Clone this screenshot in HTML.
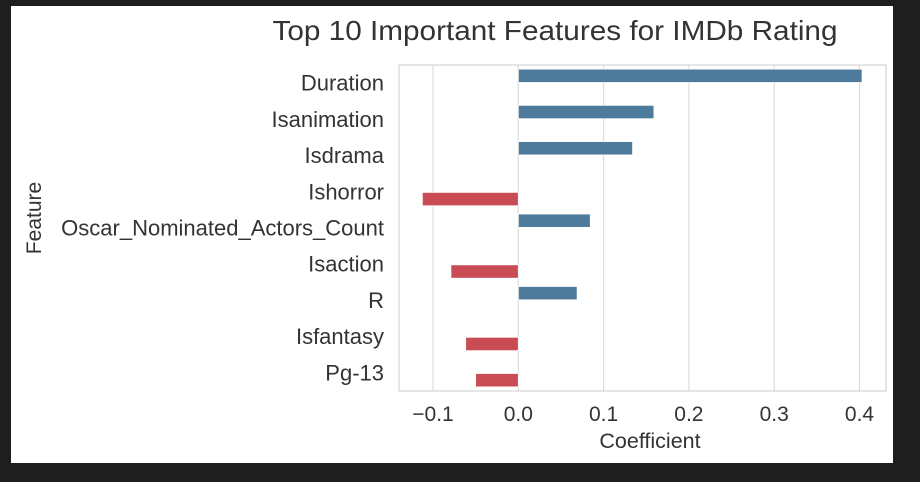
<!DOCTYPE html>
<html><head><meta charset="utf-8"><style>
html,body{margin:0;padding:0;background:#1e1e1e;width:920px;height:482px;overflow:hidden}
svg{display:block}
text{font-family:"Liberation Sans",Arial,sans-serif;fill:#333}
</style></head><body>
<svg width="920" height="482">
<rect x="11" y="6" width="882" height="457" fill="#fff"/>
<text x="555" y="40" font-size="28" text-anchor="middle" textLength="565" lengthAdjust="spacingAndGlyphs">Top 10 Important Features for IMDb Rating</text>
<g id="grid"></g>
<g id="bars"></g>
<rect x="399" y="65" width="487" height="326" fill="none" stroke="#d6d6d6" stroke-width="1.2"/>
<g id="labels"></g>
<text x="650" y="448" font-size="21.5" text-anchor="middle">Coefficient</text>
<text transform="translate(41,218) rotate(-90)" font-size="21" text-anchor="middle">Feature</text>
</svg>
<script>
const categories=["Duration","Isanimation","Isdrama","Ishorror","Oscar_Nominated_Actors_Count","Isaction","R","Isfantasy","Pg-13"];
const values=[0.403,0.159,0.134,-0.1125,0.0844,-0.079,0.069,-0.0617,-0.05];
const xTicks=[-0.1,0,0.1,0.2,0.3,0.4];
const xTickLabels=["\u22120.1","0.0","0.1","0.2","0.3","0.4"];
const NS="http://www.w3.org/2000/svg";
const L=399,R=886,T=65,B=391;
const x=v=>518.3+v*853;
const band=(B-T)/categories.length;
const yc=i=>T+(i+0.5)*band;
function mk(tag,attrs,parent){const e=document.createElementNS(NS,tag);for(const k in attrs)e.setAttribute(k,attrs[k]);parent.appendChild(e);return e;}
const grid=document.getElementById('grid'),bars=document.getElementById('bars'),labels=document.getElementById('labels');
xTicks.forEach((t,i)=>{
  const l=mk('line',{x1:x(t),x2:x(t),y1:T,y2:B,stroke:'#dcdcdc','stroke-width':1.2},grid);
  
  
  const tx=mk('text',{x:x(t),y:421,'font-size':21,'text-anchor':'middle'},labels);
  tx.textContent=xTickLabels[i];
  
  
});
categories.forEach((c,i)=>{
  const v=values[i];
  const pos=v>=0;
  const cy=yc(i)+(pos?-7.3:7.3);
  const r=mk('rect',{x:Math.min(x(0),x(v)),y:cy-6.7,width:Math.abs(x(v)-x(0)),height:13.4,fill:pos?'#4e7a9c':'#c94c55',stroke:'#fff','stroke-width':0.8},bars);
  
  
  const t=mk('text',{x:384,y:yc(i)+7.5,'font-size':22,'text-anchor':'end'},labels);
  t.textContent=c;
  
  
});
</script>
</body></html>
